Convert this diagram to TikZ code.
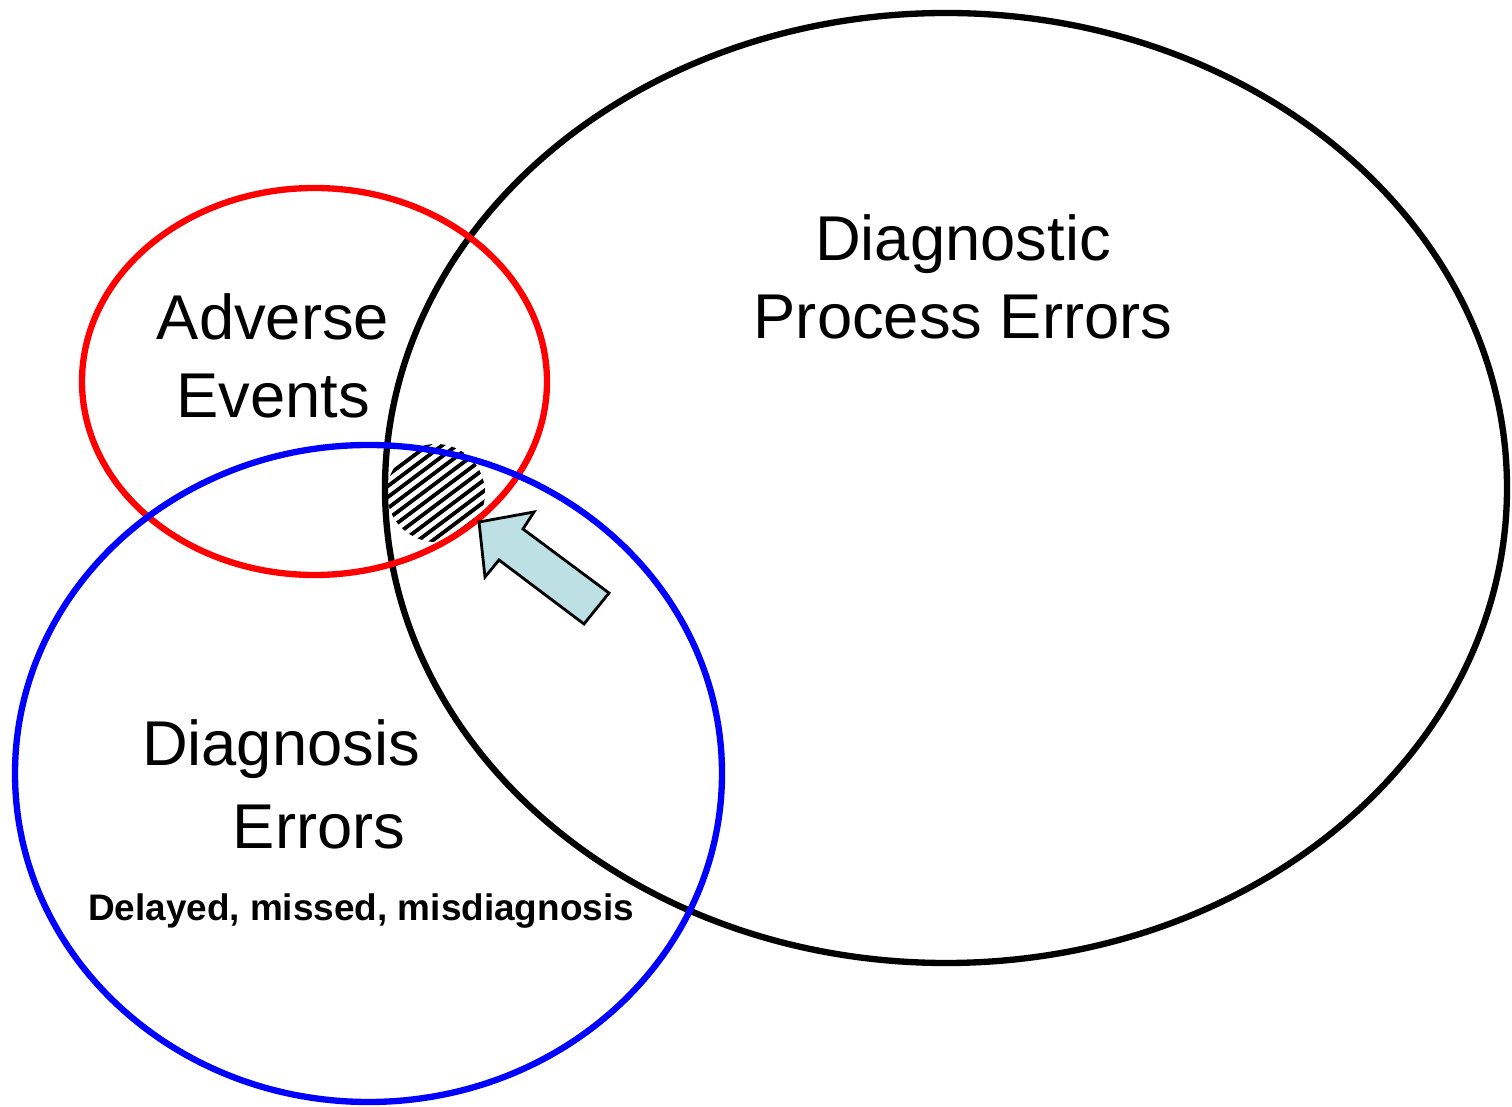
\documentclass[tikz,border=0pt]{standalone}
\usepackage{fontspec}
\setmainfont{Liberation Sans}
\usepackage{tikz}
\usepackage{xcolor}
\definecolor{arrowfill}{HTML}{BCE0E3}
\tikzstyle{ring} = [line width=1.8pt]
\tikzstyle{big} = [font=\fontsize{18}{22}\selectfont, align=center, inner sep=0pt]
\tikzstyle{small} = [font=\fontsize{10.5}{12}\selectfont\bfseries, inner sep=0pt]

\begin{document}
\begin{tikzpicture}[x=0.01cm,y=-0.01cm]
  \useasboundingbox (0,0) rectangle (1512,1107);
  % hatched overlap
  \begin{scope}
    \clip (946,488) ellipse [x radius=561, y radius=475];
    \clip (436,493) circle [radius=49];
    \foreach \k in {-12,...,12}
      \draw[line width=1.1pt] (380,492+\k*11) -- +(120,-90);
  \end{scope}
  % the three sets
  \draw[ring] (946,488) ellipse [x radius=561, y radius=475];
  \draw[ring,red] (314.5,381.5) ellipse [x radius=232.5, y radius=193.5];
  \draw[ring,blue] (368.5,773.5) ellipse [x radius=353.5, y radius=328.5];
  % block arrow
  \draw[fill=arrowfill,line width=0.8pt,line join=miter]
    (479,522) -- (534,512) -- (523,529) -- (609,593) -- (584,624)
    -- (499,560) -- (485,577) -- cycle;
  % labels
  \node[big] (dpe) at (963,277) {Diagnostic\\Process Errors};
  \node[big] (ae) at (273,356) {Adverse\\Events};
  \node[big] (dx) at (281,749) {Diagnosis};
  \node[big] (err) at (319,827) {Errors};
  \node[small] (sub) at (361,911) {Delayed, missed, misdiagnosis};
\end{tikzpicture}
\end{document}
